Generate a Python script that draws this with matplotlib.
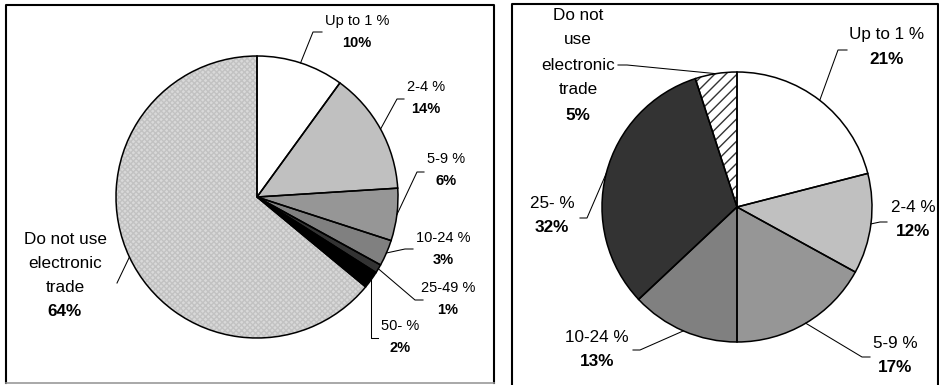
import matplotlib
matplotlib.use("Agg")
import matplotlib.pyplot as plt
import numpy as np
from matplotlib.lines import Line2D

plt.rcParams["font.family"] = ["Liberation Sans", "DejaVu Sans"]
plt.rcParams["hatch.linewidth"] = 1.0

W, H = 939, 385

# Share of turnover coming from electronic trade
left_categories = ["Up to 1 %", "2-4 %", "5-9 %", "10-24 %", "25-49 %", "50- %",
                   "Do not use\nelectronic\ntrade"]
left_values = [10, 14, 6, 3, 1, 2, 64]

right_categories = ["Up to 1 %", "2-4 %", "5-9 %", "10-24 %", "25- %",
                    "Do not\nuse\nelectronic\ntrade"]
right_values = [21, 12, 17, 13, 32, 5]

left_fills = ["#ffffff", "#c0c0c0", "#969696", "#808080", "#333333", "#000000", "#d9d9d9"]
left_hatches = [None, None, None, None, None, None, "xxxxxx"]
left_hatch_colors = [None, None, None, None, None, None, "#c2c2c2"]

right_fills = ["#ffffff", "#c0c0c0", "#969696", "#808080", "#333333", "#ffffff"]
right_hatches = [None, None, None, None, None, "///"]
right_hatch_colors = [None, None, None, None, None, "#333333"]

# label layout in pixel space: (text x, first line y, line pitch, font size,
#                               leader elbow, leader end); elbow "v" drops
#                               straight down from the rim
left_layout = [
    (357, 21, 22, 10.5, (313, 32), (322, 32)),
    (426, 87, 22, 10.5, (397, 99), (404, 99)),
    (446, 159, 22, 10.5, (417, 172), (424, 172)),
    (443, 238, 22, 10.5, (405, 249), (413, 249)),
    (448, 288, 22, 10.5, (415, 300), (423, 300)),
    (400, 326, 22, 10.5, "v", (378, 338)),
    (65, 240, 24, 12.3, None, (117, 283)),
]
right_layout = [
    (887, 35, 25, 12.3, (838, 50), (847, 50)),
    (913, 207, 25, 12.3, (880, 222), (887, 222)),
    (895, 343, 25, 12.3, (862, 357), (870, 357)),
    (597, 337, 25, 12.3, (640, 350), (633, 350)),
    (552, 203, 25, 12.3, (587, 218), (580, 218)),
    (578, 15, 25, 12.3, (627, 65), (618, 65)),
]

fig = plt.figure(figsize=(W / 100, H / 100), dpi=100)
ax = fig.add_axes([0, 0, 1, 1])


def py(y):
    return H - y


def draw_pie(values, fills, hatches, hatch_colors, center, radius):
    cx, cy = center
    wedges, _ = ax.pie(values, colors=fills, startangle=90, counterclock=False,
                       center=(cx, py(cy)), radius=radius,
                       wedgeprops=dict(linewidth=0))
    for w, h, hc in zip(wedges, hatches, hatch_colors):
        if h:
            w.set_hatch(h)
            w.set_edgecolor(hc)
            w.set_linewidth(0)
    # black outlines drawn on top of the fills
    ax.pie(values, startangle=90, counterclock=False,
           center=(cx, py(cy)), radius=radius,
           wedgeprops=dict(fill=False, edgecolor="black", linewidth=1.1))
    return wedges


def draw_labels(wedges, categories, values, layout, center, radius):
    cx, cy = center
    for w, name, val, lay in zip(wedges, categories, values, layout):
        tx, ty, pitch, size, elbow, end = lay
        lines = name.split("\n")
        for i, ln in enumerate(lines):
            ax.text(tx, py(ty + i * pitch), ln, ha="center", va="center",
                    fontsize=size, color="black")
        ax.text(tx, py(ty + len(lines) * pitch), f"{val}%", ha="center",
                va="center", fontsize=size, fontweight="bold", color="black")
        mid = np.deg2rad((w.theta1 + w.theta2) / 2)
        sx = cx + radius * np.cos(mid)
        sy = py(cy) + radius * np.sin(mid)
        xs, ys = [sx], [sy]
        if elbow == "v":
            xs.append(sx)
            ys.append(py(end[1]))
        elif elbow is not None:
            xs.append(elbow[0])
            ys.append(py(elbow[1]))
        xs.append(end[0])
        ys.append(py(end[1]))
        ax.add_line(Line2D(xs, ys, color="black", linewidth=0.75))


lw_center, lw_r = (257, 197), 141
rw_center, rw_r = (737, 207), 135

lw = draw_pie(left_values, left_fills, left_hatches, left_hatch_colors, lw_center, lw_r)
draw_labels(lw, left_categories, left_values, left_layout, lw_center, lw_r)

rw = draw_pie(right_values, right_fills, right_hatches, right_hatch_colors, rw_center, rw_r)
draw_labels(rw, right_categories, right_values, right_layout, rw_center, rw_r)

# panel frames
ax.add_line(Line2D([6, 6, 494, 494], [py(383), py(5), py(5), py(383)],
                   color="black", linewidth=1.5))
ax.add_line(Line2D([6, 494], [py(383), py(383)], color="#999999", linewidth=1.2))
ax.add_line(Line2D([512, 512, 938, 938], [py(395), py(4), py(4), py(395)],
                   color="black", linewidth=1.5))

ax.set_xlim(0, W)
ax.set_ylim(0, H)
ax.set_aspect("auto")
ax.axis("off")

fig.savefig("out.png", dpi=100)
